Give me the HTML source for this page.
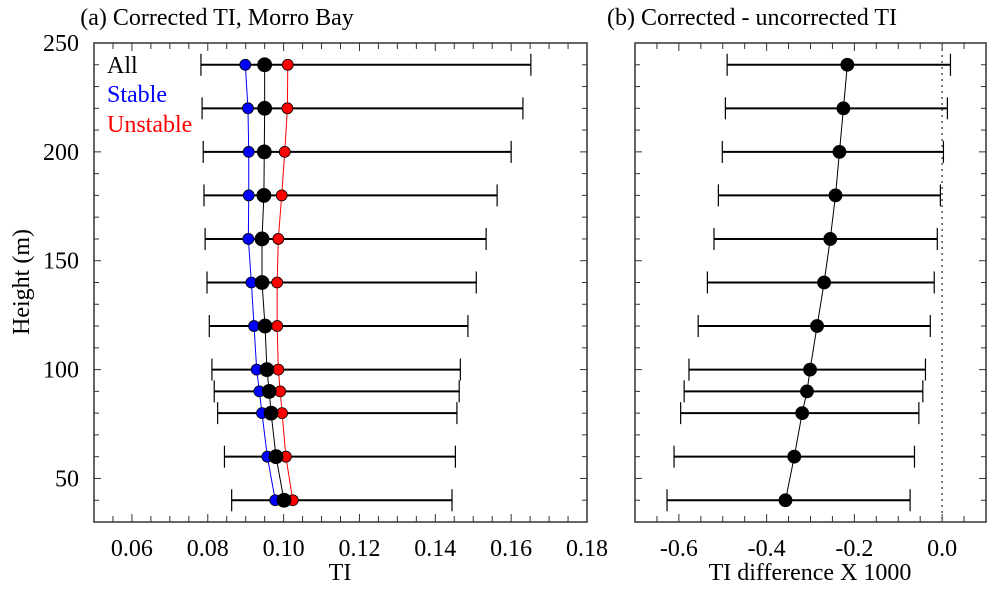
<!DOCTYPE html>
<html><head><meta charset="utf-8"><style>
html,body{margin:0;padding:0;background:#fff;}
svg{display:block;font-family:"Liberation Serif",serif;}
</style></head><body>
<svg id="c" width="998" height="590"></svg>
<script>
const heights=[240,220,200,180,160,140,120,100,90,80,60,40];
const allTI=[0.0950,0.0950,0.0949,0.0948,0.0943,0.0943,0.0951,0.0956,0.0962,0.0967,0.0980,0.1001];
const stableTI=[0.0899,0.0906,0.0908,0.0908,0.0907,0.0915,0.0922,0.0929,0.0936,0.0943,0.0957,0.0978];
const unstableTI=[0.1011,0.1010,0.1003,0.0995,0.0986,0.0983,0.0983,0.0986,0.0991,0.0996,0.1006,0.1024];
const allLo=[0.0782,0.0785,0.0788,0.0790,0.0793,0.0798,0.0804,0.0811,0.0817,0.0826,0.0844,0.0863];
const allHi=[0.1652,0.1631,0.1600,0.1563,0.1534,0.1508,0.1486,0.1466,0.1463,0.1457,0.1453,0.1444];
const diff=[-0.216,-0.225,-0.234,-0.243,-0.255,-0.269,-0.285,-0.301,-0.308,-0.319,-0.337,-0.357];
const diffLo=[-0.490,-0.494,-0.501,-0.510,-0.520,-0.535,-0.556,-0.577,-0.588,-0.596,-0.611,-0.627];
const diffHi=[0.019,0.012,0.003,-0.004,-0.011,-0.018,-0.027,-0.038,-0.044,-0.053,-0.063,-0.073];
const xTicksA=["0.06","0.08","0.10","0.12","0.14","0.16","0.18"];
const xTicksB=["-0.6","-0.4","-0.2","0.0"];
const yTicks=["50","100","150","200","250"];

const svg=document.getElementById('c');
const NS='http://www.w3.org/2000/svg';
function mk(t,a,p){const e=document.createElementNS(NS,t);for(const k in a)e.setAttribute(k,a[k]);(p||svg).appendChild(e);return e;}
const yTop=43,yBot=522;
const y=h=>yBot-(h-30)/(250-30)*(yBot-yTop);
const A={l:94,r:587,d0:0.05,d1:0.18};
const B={l:635,r:986,d0:-0.7,d1:0.1};
const xa=v=>A.l+(v-A.d0)/(A.d1-A.d0)*(A.r-A.l);
const xb=v=>B.l+(v-B.d0)/(B.d1-B.d0)*(B.r-B.l);
const FS=24;

function frame(P,name){
  const g=mk('g',{});
  
  
  mk('rect',{x:P.l,y:yTop,width:P.r-P.l,height:yBot-yTop,fill:'none',stroke:'#333','stroke-width':1.5},g);
  for(let h=30;h<=250;h+=10){const L=(h%50==0)?7:5;
    mk('line',{x1:P.l,x2:P.l+L,y1:y(h),y2:y(h),stroke:'#333'},g);
    mk('line',{x1:P.r,x2:P.r-L,y1:y(h),y2:y(h),stroke:'#333'},g);}
  return g;
}
const gA=frame(A,'panel-a');
for(let i=0;i<=26;i++){const v=0.05+i*0.005;const X=xa(v);const L=(i%4==2)?8:6;
  mk('line',{x1:X,x2:X,y1:yBot,y2:yBot-L,stroke:'#333'},gA);mk('line',{x1:X,x2:X,y1:yTop,y2:yTop+L,stroke:'#333'},gA);}
xTicksA.forEach(s=>{const t=mk('text',{x:xa(parseFloat(s)),y:556,'font-size':FS,'text-anchor':'middle'},gA);t.textContent=s;
  
  });
yTicks.forEach(s=>{const t=mk('text',{x:79,y:y(+s)+8,'font-size':FS,'text-anchor':'end'},gA);t.textContent=s;
  
  });
const gB=frame(B,'panel-b');
for(let i=0;i<=16;i++){const v=-0.7+i*0.05;const X=xb(v);const L=(i%4==2)?8:6;
  mk('line',{x1:X,x2:X,y1:yBot,y2:yBot-L,stroke:'#333'},gB);mk('line',{x1:X,x2:X,y1:yTop,y2:yTop+L,stroke:'#333'},gB);}
xTicksB.forEach(s=>{const t=mk('text',{x:xb(parseFloat(s)),y:556,'font-size':FS,'text-anchor':'middle'},gB);t.textContent=s;
  
  });
const zl=mk('line',{x1:xb(0),x2:xb(0),y1:yTop,y2:yBot,stroke:'#555','stroke-dasharray':'2,4','stroke-width':1.5});



function txt(s,x,yy,attrs,name){const t=mk('text',Object.assign({x:x,y:yy,'font-size':FS},attrs||{}));t.textContent=s;
  
  return t;}
txt('(a) Corrected TI, Morro Bay',217,25,{'text-anchor':'middle'},'title-a');
txt('(b) Corrected - uncorrected TI',752,25,{'text-anchor':'middle'},'title-b');
txt('TI',340,580,{'text-anchor':'middle'},'x-axis-title-a');
txt('TI difference X 1000',810,580,{'text-anchor':'middle'},'x-axis-title-b');
txt('Height (m)',0,0,{'text-anchor':'middle',transform:'translate(29,282) rotate(-90)'},'y-axis-title');
txt('All',107,73,{fill:'#000'},'legend-all');
txt('Stable',107,102,{fill:'#0000ff'},'legend-stable');
txt('Unstable',107,132,{fill:'#ff0000'},'legend-unstable');

function errbars(lo,hi,xf,name){heights.forEach((h,i)=>{const g=mk('g',{});
  
  
  const Y=y(h);mk('line',{x1:xf(lo[i]),x2:xf(hi[i]),y1:Y,y2:Y,stroke:'#000','stroke-width':2},g);
  mk('line',{x1:xf(lo[i]),x2:xf(lo[i]),y1:Y-11,y2:Y+11,stroke:'#000','stroke-width':1.2},g);
  mk('line',{x1:xf(hi[i]),x2:xf(hi[i]),y1:Y-11,y2:Y+11,stroke:'#000','stroke-width':1.2},g);});}
function series(vals,xf,col,r,name){
  const p=mk('polyline',{points:heights.map((h,i)=>xf(vals[i])+','+y(h)).join(' '),fill:'none',stroke:col,'stroke-width':1});
  
  
  heights.forEach((h,i)=>{const c=mk('circle',{cx:xf(vals[i]),cy:y(h),r:r,fill:col,stroke:'#000','stroke-width':0.8});
    
    });}
errbars(allLo,allHi,xa,'error-bar-a');
series(stableTI,xa,'#0000ff',5.5,'stable');
series(unstableTI,xa,'#ff0000',5.5,'unstable');
series(allTI,xa,'#000000',7,'all');
errbars(diffLo,diffHi,xb,'error-bar-b');
series(diff,xb,'#000000',6.5,'difference');
</script>
</body></html>
